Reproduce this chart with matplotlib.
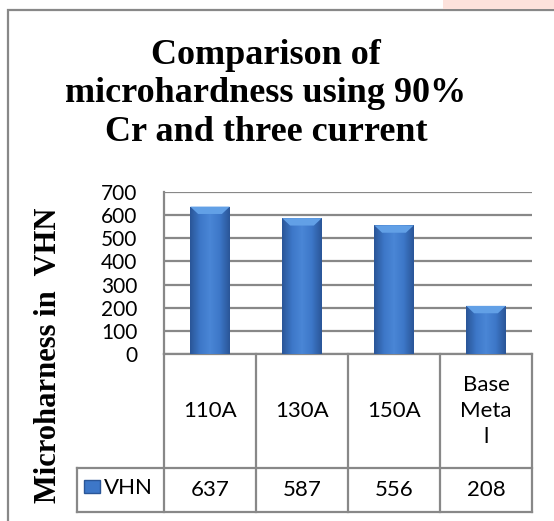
import matplotlib
matplotlib.use("Agg")
import matplotlib.pyplot as plt
import numpy as np
from matplotlib.colors import LinearSegmentedColormap
from matplotlib.patches import Polygon, Rectangle
import matplotlib.transforms as mtransforms

# Microhardness data (VHN) for 90% Cr at three welding currents
categories = ["110A", "130A", "150A", "Base\nMeta\nl"]
vhn_values = [637, 587, 556, 208]
value_labels = ["637", "587", "556", "208"]
y_ticks = [0, 100, 200, 300, 400, 500, 600, 700]
series_name = "VHN"

SERIF = "Liberation Serif"
SANS = "Lato"
GRID = "#888888"

W, H = 554, 521
fig = plt.figure(figsize=(W / 100, H / 100), dpi=100)


def fx(px):
    return px / W


def fy(py):
    return 1 - py / H


# outer chart frame (runs past the right and bottom edges)
fig.patches.append(Rectangle((fx(8), fy(560)), fx(600), fy(10) - fy(560),
                             transform=fig.transFigure, fill=False,
                             edgecolor=GRID, linewidth=1.6))
# pinkish strip in the top-right corner
fig.patches.append(Rectangle((fx(443), fy(9)), fx(120), fy(0) - fy(9),
                             transform=fig.transFigure, facecolor="#fde2dc",
                             edgecolor="none"))

fig.text(fx(266), fy(94), "Comparison of\nmicrohardness using 90%\nCr and three current",
         ha="center", va="center", fontsize=26, fontweight="bold",
         family=SERIF, linespacing=1.22)
fig.text(fx(49), fy(355), "Microharness in  VHN", rotation=90,
         ha="center", va="center", fontsize=22, fontweight="bold", family=SERIF)

ax = fig.add_axes([fx(164), fy(354), fx(532) - fx(164), fy(192) - fy(354)])
x = np.arange(len(categories))
bars = ax.bar(x, vhn_values, width=0.43, color="#3c74c4", edgecolor="none", zorder=2)

# shaded bar faces: dark edges, lighter middle, plus a bevelled top
shade = LinearSegmentedColormap.from_list(
    "shade", ["#2a5698", "#3d77c8", "#4a86d6", "#3d77c8", "#2a5698"])
grad = np.linspace(0, 1, 64).reshape(1, -1)
for b in bars:
    x0, w, h = b.get_x(), b.get_width(), b.get_height()
    im = ax.imshow(grad, cmap=shade, aspect="auto", extent=(x0, x0 + w, 0, h),
                   zorder=3, interpolation="bilinear")
    im.set_clip_path(b)
    bev = 32
    top = Polygon([(x0, h), (x0 + w, h), (x0 + w * 0.8, h - bev),
                   (x0 + w * 0.2, h - bev)], closed=True,
                  facecolor="#62a0e6", edgecolor="none", zorder=4)
    ax.add_patch(top)

ax.set_xlim(-0.5, len(categories) - 0.5)
ax.set_ylim(0, 700)
ax.set_yticks(y_ticks)
ax.set_yticklabels([str(t) for t in y_ticks], family=SANS, fontsize=15)
ax.tick_params(axis="y", length=0, pad=19)
ax.set_xticks([])
ax.yaxis.grid(True, color=GRID, linewidth=1.6, zorder=0)
ax.set_axisbelow(True)
for s in ["top", "right", "bottom"]:
    ax.spines[s].set_visible(False)
ax.spines["left"].set_color(GRID)
ax.spines["left"].set_linewidth(1.6)

# data table under the plot
tr = mtransforms.blended_transform_factory(ax.transData, ax.transAxes)
row_mid, row_bot = -0.7037, -0.975
legend_left = -1.446
lk = dict(color=GRID, linewidth=1.6, transform=tr, clip_on=False)
xl, xr = -0.5, len(categories) - 0.5
ax.plot([xl, xr], [0, 0], **lk)
ax.plot([legend_left, xr], [row_mid, row_mid], **lk)
ax.plot([legend_left, xr], [row_bot, row_bot], **lk)
ax.plot([legend_left, legend_left], [row_mid, row_bot], **lk)
for xv in np.arange(len(categories) + 1) - 0.5:
    ax.plot([xv, xv], [0, row_bot], **lk)

for xi, cat, val in zip(x, categories, value_labels):
    ax.text(xi, row_mid / 2, cat, transform=tr, ha="center", va="center",
            family=SANS, fontsize=16, linespacing=1.4)
    ax.text(xi, (row_mid + row_bot) / 2, val, transform=tr, ha="center",
            va="center", family=SANS, fontsize=16)

# legend key inside the table
ax.add_patch(Rectangle((legend_left + 0.08, -0.86), 0.17, 0.085, transform=tr,
                       facecolor="#3d77c8", edgecolor="#2a5698", linewidth=1.0,
                       clip_on=False))
ax.text(legend_left + 0.29, (row_mid + row_bot) / 2 + 0.01, series_name,
        transform=tr, ha="left", va="center", family=SANS, fontsize=16)

fig.savefig("out.png", dpi=100)
